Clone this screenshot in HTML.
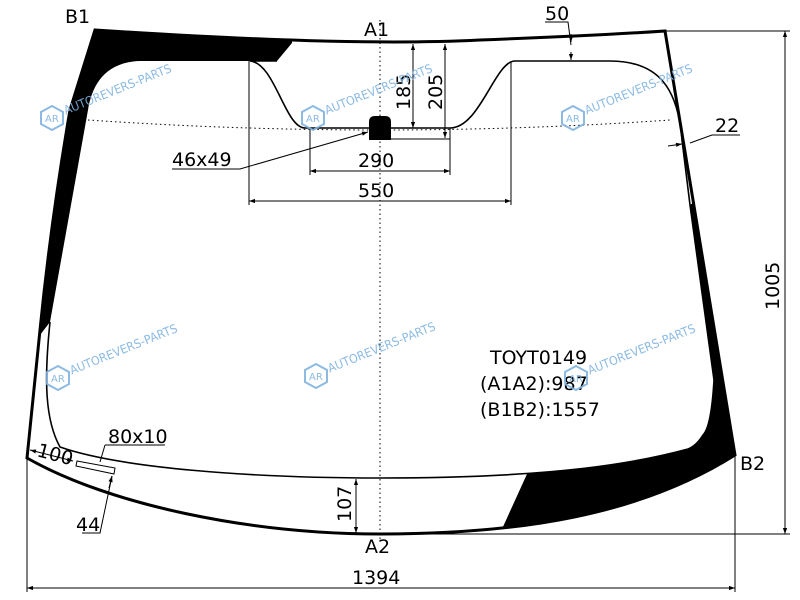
<!DOCTYPE html>
<html><head><meta charset="utf-8"><style>body{margin:0;background:#fff}svg{display:block}text{font-family:"DejaVu Sans","Liberation Sans",sans-serif}</style></head>
<body>
<svg width="800" height="600" viewBox="0 0 800 600" xmlns="http://www.w3.org/2000/svg">
<defs>
<marker id="a" viewBox="0 0 10 10" refX="10" refY="5" markerWidth="8" markerHeight="6" orient="auto-start-reverse"><path d="M0,1.5 L10,5 L0,8.5 z" fill="#000"/></marker>
<g id="wm"><polygon points="0,-12 11,-6 11,6 0,12 -11,6 -11,-6" fill="none" stroke="#7fb3e0" stroke-width="2"/><text x="-7" y="4" font-size="10" fill="#7fb3e0">AR</text><text x="14" y="2" font-size="12" fill="#7fb3e0" transform="rotate(-22)" textLength="115" lengthAdjust="spacingAndGlyphs">AUTOREVERS-PARTS</text></g>
<clipPath id="c"><path d="M95,30 C250,40 380,45 480,40 C560,37 620,34 665,31 L693,200 L735,455 C640,515 520,534 380,534 C250,534 110,505 27,458 L40,330 C48,250 58,180 70,110 Z"/></clipPath>
</defs>
<g clip-path="url(#c)" fill="#000">
<path d="M0,0 L292,0 L292,43 L277,61 L140,61 C105,62 92,85 88,110 L50,322 L40,335 L0,335 Z"/>
<path d="M690,205 L714,380 C712,415 708,430 703,435 C698,443 693,447 688,449 C640,462 580,470 527,474 L497,540 L800,600 L800,0 L697,200 Z"/>
</g>
<path d="M95,30 C250,40 380,45 480,40 C560,37 620,34 665,31 L693,200 L735,455 C640,515 520,534 380,534 C250,534 110,505 27,458 L40,330 C48,250 58,180 70,110 Z" fill="none" stroke="#000" stroke-width="3"/>
<path d="M277,61 L250,61 C275,63 285,128 305,128 L450,128 C480,128 495,61 515,61 L610,61 C660,61 678,90 682,140 L690,205 L714,380 C712,415 708,430 703,435 C698,443 693,447 688,449 C640,462 560,478 380,478 C250,478 120,468 60,447 C45,420 44,380 50,322" fill="none" stroke="#000" stroke-width="1.6"/>
<path d="M369,140 L369,122 Q369,116 375,116 L385,116 Q391,116 391,122 L391,140 Z" fill="#000"/>
<path d="M88,120 Q380,140 670,120" fill="none" stroke="#000" stroke-width="1" stroke-dasharray="1.5,3"/>
<line x1="380" y1="20" x2="380" y2="540" stroke="#000" stroke-width="1" stroke-dasharray="1.5,3"/>
<g stroke="#000" stroke-width="1" fill="none">
<line x1="249" y1="61" x2="249" y2="205"/><line x1="511" y1="61" x2="511" y2="205"/>
<line x1="310" y1="128" x2="310" y2="175"/><line x1="450" y1="128" x2="450" y2="175"/>
<line x1="310" y1="171" x2="450" y2="171" marker-start="url(#a)" marker-end="url(#a)"/>
<line x1="249" y1="201" x2="511" y2="201" marker-start="url(#a)" marker-end="url(#a)"/>
<line x1="413" y1="44" x2="413" y2="128" marker-start="url(#a)" marker-end="url(#a)"/>
<line x1="445" y1="44" x2="445" y2="138" marker-start="url(#a)" marker-end="url(#a)"/>
<line x1="391" y1="139" x2="450" y2="139"/>
<polyline points="172,169 240,169 368,132" marker-end="url(#a)"/>
<polyline points="545,22 568,22 571,45"/><line x1="571" y1="34" x2="571" y2="42" marker-end="url(#a)"/><line x1="571" y1="52" x2="571" y2="60" marker-end="url(#a)"/>
<polyline points="740,135 712,135 690,143"/><line x1="668" y1="146" x2="682" y2="144" marker-end="url(#a)"/>
<line x1="665" y1="31" x2="790" y2="31"/><line x1="380" y1="534" x2="790" y2="534"/>
<line x1="785" y1="31" x2="785" y2="534" marker-start="url(#a)" marker-end="url(#a)"/>
<line x1="27" y1="458" x2="27" y2="592"/><line x1="735" y1="455" x2="735" y2="592"/>
<line x1="27" y1="588" x2="735" y2="588" marker-start="url(#a)" marker-end="url(#a)"/>
<line x1="356" y1="479" x2="356" y2="533" marker-start="url(#a)" marker-end="url(#a)"/>
<line x1="30" y1="450" x2="73" y2="461" marker-start="url(#a)" marker-end="url(#a)"/>
<polygon points="77,461 115,468 114,474 76,466"/>
<polyline points="105,445 165,445"/><line x1="105" y1="445" x2="100" y2="462"/>
<polyline points="82,533 100,533 112,476" /><line x1="109" y1="488" x2="112" y2="476" marker-end="url(#a)"/>
</g>
<g font-size="19" fill="#000">
<text x="65" y="23">B1</text><text x="364" y="36">A1</text><text x="740" y="470">B2</text><text x="365" y="553">A2</text>
<text x="172" y="166">46x49</text><text x="358" y="167">290</text><text x="358" y="197">550</text>
<text x="545" y="20">50</text><text x="715" y="132">22</text>
<text x="352" y="584">1394</text>
<text x="108" y="443">80x10</text><text x="76" y="531">44</text>
<text x="36" y="456" transform="rotate(15 36 456)">100</text>
<text transform="translate(410,110) rotate(-90)">185</text>
<text transform="translate(442,110) rotate(-90)">205</text>
<text transform="translate(779,310) rotate(-90)">1005</text>
<text transform="translate(351,522) rotate(-90)">107</text>
<text x="490" y="364">TOYT0149</text>
<text x="480" y="390">(A1A2):987</text>
<text x="480" y="416">(B1B2):1557</text>
</g>
<g opacity="0.9">
<use href="#wm" x="52" y="118"/><use href="#wm" x="313" y="118"/><use href="#wm" x="573" y="118"/>
<use href="#wm" x="58" y="378"/><use href="#wm" x="316" y="376"/><use href="#wm" x="576" y="378"/>
</g>
</svg>
</body></html>
